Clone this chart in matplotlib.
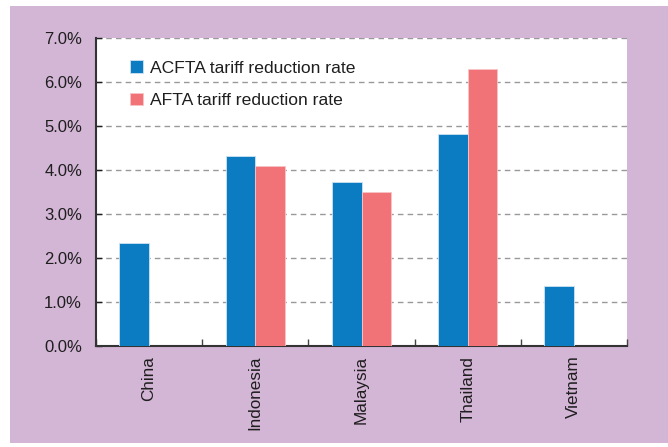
import numpy as np
import matplotlib.pyplot as plt
from matplotlib.patches import Rectangle

countries = ["China", "Indonesia", "Malaysia", "Thailand", "Vietnam"]
acfta_rate = [2.33, 4.31, 3.72, 4.82, 1.36]
afta_rate = [np.nan, 4.10, 3.50, 6.30, np.nan]

BLUE = "#0b7bc2"
PINK = "#f17377"
PURPLE = "#d3b5d5"
TEXT = "#1e1e1e"

plt.rcParams["font.family"] = ["Liberation Sans", "DejaVu Sans"]

fig = plt.figure(figsize=(6.68, 4.47), dpi=100)
fig.patch.set_facecolor("white")
# purple panel behind the axes, leaving a thin white margin top/left/bottom
fig.add_artist(Rectangle((10 / 668, 4 / 447), 658 / 668, 437 / 447,
                         transform=fig.transFigure, facecolor=PURPLE,
                         edgecolor="none", zorder=-10))

ax = fig.add_axes([96 / 668, 1 - 346 / 447, 531 / 668, 308 / 447])
ax.set_facecolor("white")

x = np.arange(len(countries))
w = 0.28
ax.bar(x - w / 2, acfta_rate, w, color=BLUE, edgecolor="#cfe3f2", linewidth=0.6,
       label="ACFTA tariff reduction rate", zorder=3)
ax.bar(x + w / 2, afta_rate, w, color=PINK, edgecolor="#f7c4c6", linewidth=0.6,
       label="AFTA tariff reduction rate", zorder=3)

ax.set_xlim(-0.5, len(countries) - 0.5)
ax.set_ylim(0, 7)
ax.set_yticks(np.arange(0, 8, 1))
ax.set_yticklabels([f"{v:.1f}%" for v in np.arange(0, 8, 1)])
ax.set_xticks(x)
ax.set_xticklabels(countries, rotation=90)
ax.set_xticks(np.arange(-0.5, len(countries), 1), minor=True)

ax.tick_params(axis="y", direction="in", length=4, width=1, pad=10,
               labelsize=12, colors=TEXT)
ax.tick_params(axis="x", which="major", length=0, pad=7, labelsize=12.3,
               colors=TEXT)
ax.tick_params(axis="x", which="minor", direction="in", length=5, width=1,
               color="#444444")

ax.grid(axis="y", linestyle=(0, (4, 3)), color="#999999", linewidth=1, zorder=1)

for side in ["top", "right"]:
    ax.spines[side].set_visible(False)
for side in ["left", "bottom"]:
    ax.spines[side].set_color("#333333")
    ax.spines[side].set_linewidth(1.5)

leg = ax.legend(loc="upper left", bbox_to_anchor=(0.051, 0.95), frameon=False,
                fontsize=12.6, handlelength=0.75, handleheight=0.75,
                handletextpad=0.4, labelspacing=0.95, borderaxespad=0)
for t in leg.get_texts():
    t.set_color(TEXT)

fig.savefig("out.png", dpi=100)
